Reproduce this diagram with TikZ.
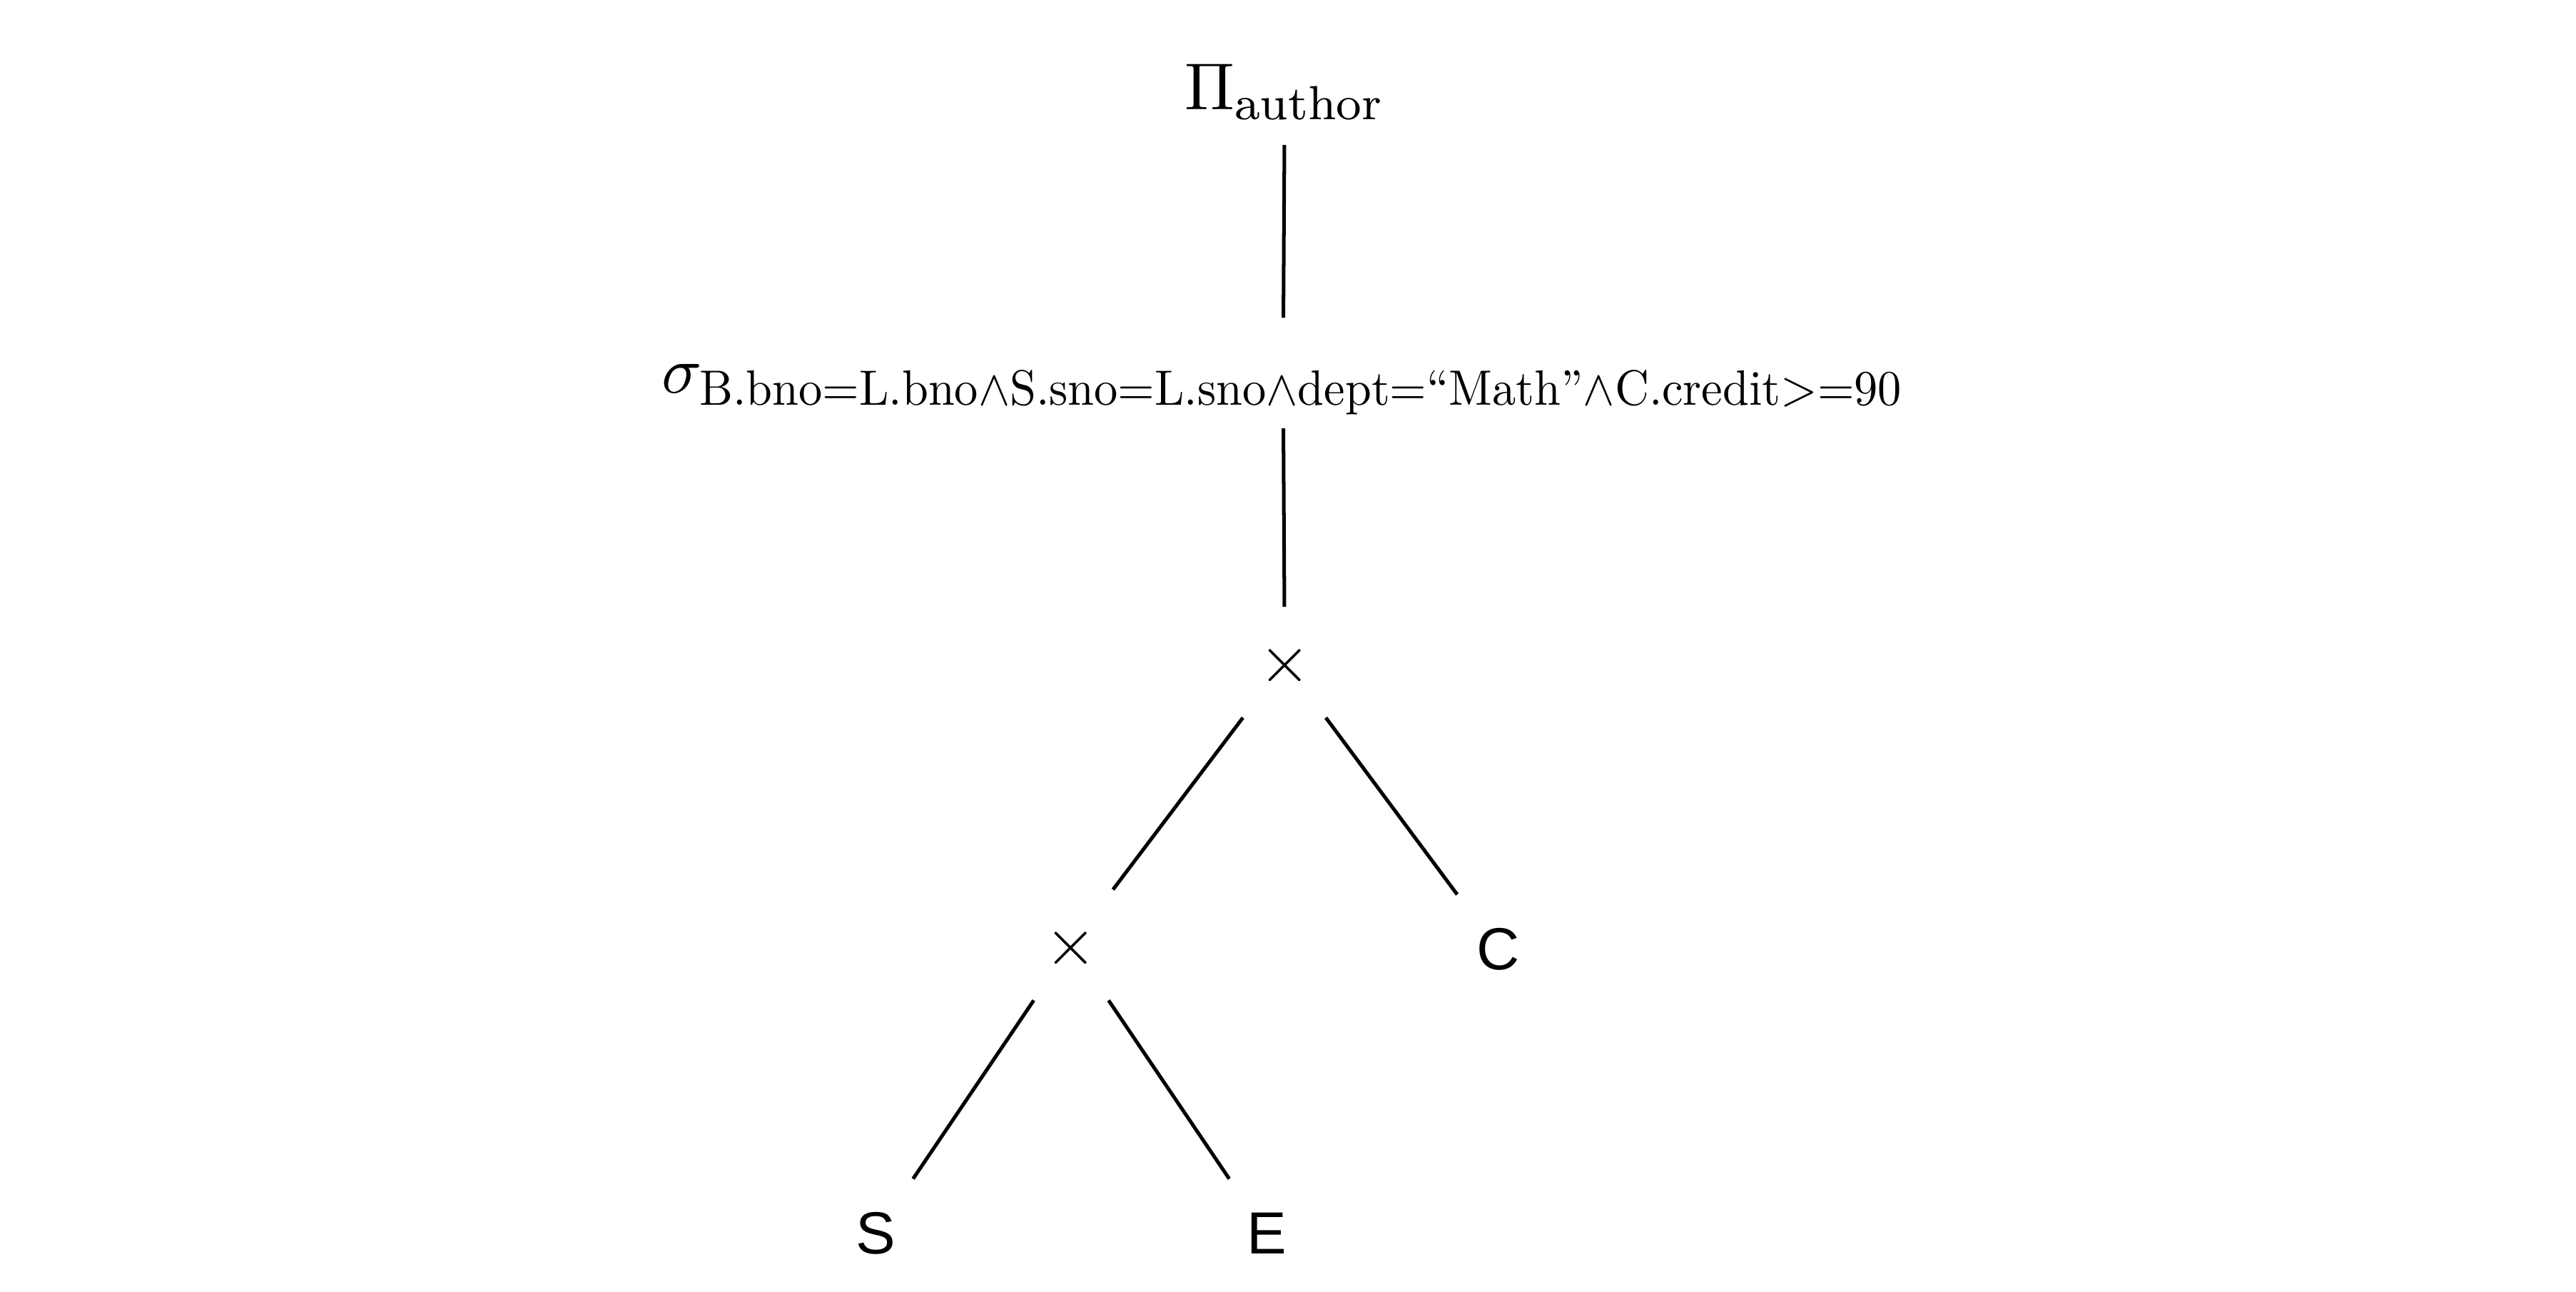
\RequirePackage{fix-cm}
\documentclass[tikz,border=0pt]{standalone}
\usepackage{amsmath}
\usepackage{fontspec}
\newfontfamily\relfont{Liberation Sans}
\DeclareMathSizes{11.5}{11.5}{8.3}{6}
\newcommand{\condtext}[1]{\scalebox{0.82}[0.86]{\fontsize{10}{12}\selectfont #1}}

\begin{document}
\begin{tikzpicture}[
    x=1cm, y=-1cm,
    every node/.style={font=\fontsize{11.5}{14}\selectfont},
    op/.style={inner sep=0pt, text height=0.45cm, text depth=0.21cm, minimum width=0.6cm},
    rel/.style={op, font=\relfont\fontsize{10.3}{12}\selectfont},
    edge/.style={line width=0.62pt},
]
\useasboundingbox (0,0) rectangle (15.68,7.86);

% Operators
\node[op] (proj) at (7.82,0.545) {$\Pi_{\text{author}}$};
\node[op] (sel) at (7.81,2.27)
    {$\sigma_{\condtext{B.bno=L.bno$\wedge$S.sno=L.sno$\wedge$dept=``Math''$\wedge$C.credit>=90}}$};
\node[op] (x1) at (7.82,4.03) {$\times$};
\node[op] (x2) at (6.52,5.75) {$\times$};

% Relations
\node[rel] (C) at (9.12,5.78) {C};
\node[rel] (S) at (5.33,7.51) {S};
\node[rel] (E) at (7.71,7.51) {E};

% Tree edges
\foreach \a/\b in {proj/sel, sel/x1, x1/x2, x1/C, x2/S, x2/E} {
    \draw[edge] (\a) -- (\b);
}

\end{tikzpicture}
\end{document}
